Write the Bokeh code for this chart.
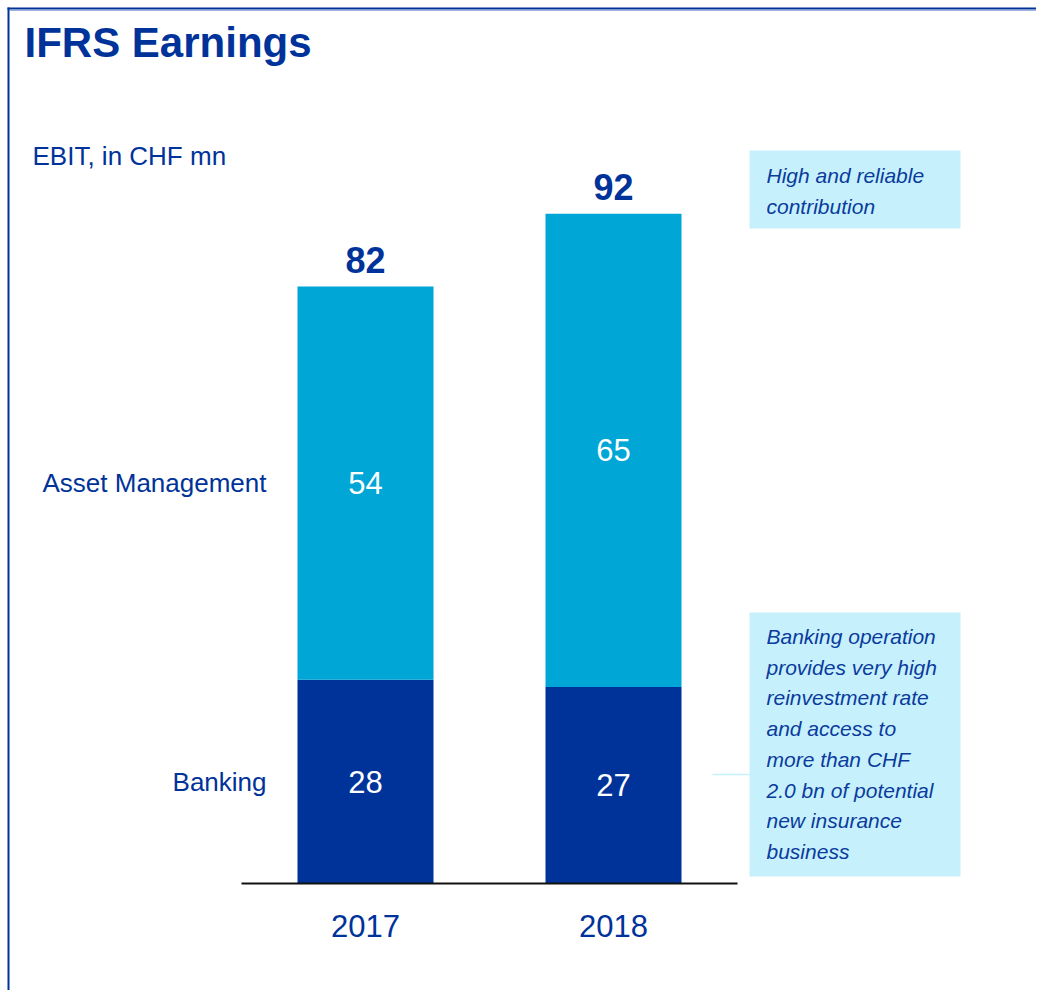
import numpy as np
from bokeh.plotting import figure
from bokeh.models import ColumnDataSource, Range1d
from bokeh.core.properties import value
from bokeh.embed import file_html
from bokeh.resources import INLINE

# ---------------- data ----------------
years = ["2017", "2018"]
banking = [28, 27]
asset_management = [54, 65]
series_names = ["Asset Management", "Banking"]
title_text = "IFRS Earnings"
unit_text = "EBIT, in CHF mn"
note_top = ["High and reliable", "contribution"]
note_bottom = ["Banking operation", "provides very high", "reinvestment rate",
               "and access to", "more than CHF", "2.0 bn of potential",
               "new insurance", "business"]

# ---------------- layout ----------------
W, H = 1036, 990
PAGE_OFF = 0
X0_PX, UNIT_X_PX = 241, 248        # page px where x=0, px per category slot
Y0_PX, UNIT_Y_PX = 883, 7.28       # page px of baseline, px per CHF mn
BAR_W = 136 / 248
FONT = value("Liberation Sans")
DARK = "#003399"
LIGHT = "#00A6D6"
BOX = "#C6F1FC"
TEXT = "#0B3B9C"


def px_x(px):
    return (px - X0_PX) / UNIT_X_PX


def px_y(py):
    return (Y0_PX - py) / UNIT_Y_PX


p = figure(width=W, height=H, output_backend="svg", toolbar_location=None,
           x_range=Range1d(px_x(PAGE_OFF), px_x(PAGE_OFF + W)),
           y_range=Range1d(px_y(PAGE_OFF + H), px_y(PAGE_OFF)),
           min_border=0, outline_line_color=None)
p.axis.visible = False
p.grid.visible = False
p.background_fill_color = "white"
p.border_fill_color = "white"

# slide frame (top and left edges)
p.segment(x0=[px_x(7), px_x(9)], y0=[px_y(8), px_y(10)], x1=[px_x(W + 10)] * 2,
          y1=[px_y(8), px_y(10)], line_color=[DARK, "#9DB3E0"], line_width=[2, 1])
p.segment(x0=[px_x(8)], y0=[px_y(7)], x1=[px_x(8)], y1=[px_y(H + 10)],
          line_color=DARK, line_width=2)

xs = np.arange(len(years)) + 0.5
bank = np.array(banking, dtype=float)
am = np.array(asset_management, dtype=float)
tot = bank + am

src = ColumnDataSource(dict(x=xs, bank=bank, am_top=tot,
                            bank_mid=bank / 2, am_mid=bank + am / 2,
                            bank_lbl=[f"{v:g}" for v in bank],
                            am_lbl=[f"{v:g}" for v in am],
                            tot_lbl=[f"{v:g}" for v in tot],
                            tot_y=tot + 26.5 / UNIT_Y_PX,
                            year=years,
                            year_y=np.full(len(years), px_y(925))))

p.vbar(x="x", bottom=0, top="bank", width=BAR_W, fill_color=DARK, line_color=None, source=src)
p.vbar(x="x", bottom="bank", top="am_top", width=BAR_W, fill_color=LIGHT, line_color=None, source=src)

# baseline
p.segment(x0=[0], y0=[0], x1=[len(years)], y1=[0], line_color="#111111", line_width=2)

# in-bar labels
for col, ycol in (("bank_lbl", "bank_mid"), ("am_lbl", "am_mid")):
    p.text(x="x", y=ycol, text=col, source=src, text_font=FONT, text_font_size="31px",
           text_color="white", text_align="center", text_baseline="middle")
# totals
p.text(x="x", y="tot_y", text="tot_lbl", source=src, text_font=FONT, text_font_size="36px",
       text_font_style="bold", text_color=DARK, text_align="center", text_baseline="middle")
# year labels
p.text(x="x", y="year_y", text="year", source=src, text_font=FONT, text_font_size="31px",
       text_color=DARK, text_align="center", text_baseline="middle")

# series labels to left of first bar
p.text(x=[px_x(266)] * 2, y=[am[0] / 2 + bank[0], bank[0] / 2], text=series_names,
       text_font=FONT, text_font_size="26px", text_color=DARK,
       text_align="right", text_baseline="middle")

# title and unit
p.text(x=[px_x(24)], y=[px_y(42)], text=[title_text], text_font=FONT, text_font_size="42px",
       text_font_style="bold", text_color=DARK, text_align="left", text_baseline="middle")
p.text(x=[px_x(32)], y=[px_y(155)], text=[unit_text], text_font=FONT, text_font_size="26px",
       text_color=DARK, text_align="left", text_baseline="middle")

# callout boxes
p.quad(left=[px_x(749)] * 2, right=[px_x(960)] * 2, top=[px_y(150), px_y(612)],
       bottom=[px_y(228), px_y(876)], fill_color=BOX, line_color=None)
p.segment(x0=[px_x(712)], y0=[px_y(774)], x1=[px_x(749)], y1=[px_y(774)],
          line_color=BOX, line_width=1.5)

LINE_H = 30.7
for lines, mid in ((note_top, 175), (note_bottom, 636)):
    ys = [px_y(mid + i * LINE_H) for i in range(len(lines))]
    p.text(x=[px_x(766)] * len(lines), y=ys, text=lines, text_font=FONT, text_font_size="21px",
           text_font_style="italic", text_color=TEXT, text_align="left", text_baseline="middle")

open("out.html", "w").write(file_html(p, INLINE))
